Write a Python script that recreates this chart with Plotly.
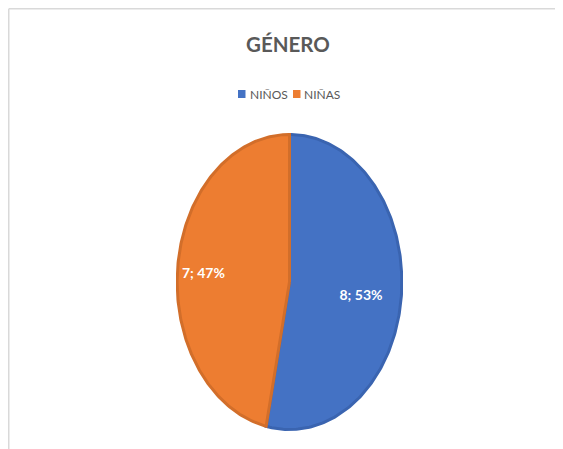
import numpy as np
import plotly.graph_objects as go

# ---- data ----
categories = ["NIÑOS", "NIÑAS"]
counts = [8, 7]
title_text = "GÉNERO"

# ---- style ----
fill_colors = ["#4472C4", "#ED7D31"]
edge_colors = ["#3A64B0", "#D26E2A"]
label_radius = [0.64, 0.77]
FONT = "Lato, Carlito, Open Sans, sans-serif"
TXT = "#595959"

W, H = 563, 449
OFF = 8  # page body margin of the browser
ML, MR, MT, MB = 176 - OFF, 160 + OFF, 133 - OFF, 18 + OFF
PW, PH = W - ML - MR, H - MT - MB


def px_x(px):
    return (px - OFF - ML) / PW


def px_y(py):
    return (H - MB - (py - OFF)) / PH


fig = go.Figure()

total = sum(counts)
start = 0.0
for name, val, fc, ec, rr in zip(categories, counts, fill_colors, edge_colors, label_radius):
    frac = val / total
    end = start + frac * 2 * np.pi
    th = np.linspace(start, end, 200)
    xs = np.concatenate([[0], np.sin(th), [0]])
    ys = np.concatenate([[0], np.cos(th), [0]])
    fig.add_trace(go.Scatter(
        x=xs, y=ys, mode="lines", fill="toself", fillcolor=fc,
        line=dict(color=ec, width=3), showlegend=False, hoverinfo="skip", name=name,
    ))
    mid = (start + end) / 2
    fig.add_trace(go.Scatter(
        x=[rr * np.sin(mid)], y=[rr * np.cos(mid) - 0.03], mode="text",
        text=[f"{val}; {round(frac * 100)}%"],
        textfont=dict(family=FONT, size=14, color="white", weight="bold"),
        showlegend=False, hoverinfo="skip",
    ))
    start = end

# legend (square + text), laid out like the reference
legend_sq_x = [238, 293]
legend_txt_x = [248, 302]
legend_y = 94
shapes = []
annotations = []
for name, fc, sx, tx in zip(categories, fill_colors, legend_sq_x, legend_txt_x):
    shapes.append(dict(type="rect", xref="paper", yref="paper",
                       x0=px_x(sx), x1=px_x(sx + 7.5), y0=px_y(legend_y + 4), y1=px_y(legend_y - 4),
                       fillcolor=fc, line=dict(width=0)))
    annotations.append(dict(text=name, xref="paper", yref="paper", x=px_x(tx), y=px_y(legend_y),
                            xanchor="left", yanchor="middle", showarrow=False,
                            font=dict(family=FONT, size=12, color=TXT)))

BX, BY = OFF + 0.75, OFF + 0.75
shapes += [
    dict(type="line", xref="paper", yref="paper", x0=px_x(BX), x1=px_x(W + OFF), y0=px_y(BY), y1=px_y(BY),
         line=dict(color="#D9D9D9", width=1.5)),
    dict(type="line", xref="paper", yref="paper", x0=px_x(BX), x1=px_x(BX), y0=px_y(BY), y1=px_y(H + OFF),
         line=dict(color="#D9D9D9", width=1.5)),
]

fig.update_layout(
    width=W, height=H,
    margin=dict(l=ML, r=MR, t=MT, b=MB),
    paper_bgcolor="white", plot_bgcolor="white",
    showlegend=False,
    title=dict(text=title_text, x=(288 - OFF) / W, xanchor="center", y=1 - (45 - OFF) / H, yanchor="middle",
               xref="container", yref="container",
               font=dict(family=FONT, size=20.5, color=TXT, weight="bold")),
    xaxis=dict(range=[-1.01, 1.01], visible=False, fixedrange=True),
    yaxis=dict(range=[-1.01, 1.01], visible=False, fixedrange=True),
    shapes=shapes,
    annotations=annotations,
)

fig.write_html("out.html")
